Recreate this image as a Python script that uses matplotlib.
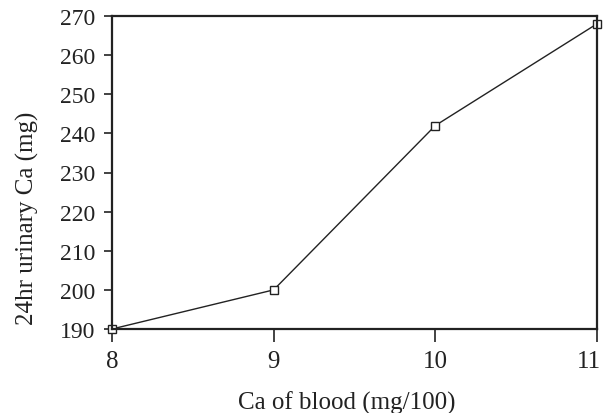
import matplotlib
matplotlib.use("Agg")
from matplotlib import pyplot as plt
from matplotlib.transforms import ScaledTranslation

# データ
ca_blood = [8, 9, 10, 11]
urinary_ca = [190, 200, 242, 268]
x_ticks = [8, 9, 10, 11]
y_ticks = [190, 200, 210, 220, 230, 240, 250, 260, 270]

plt.rcParams['font.family'] = ['Liberation Serif', 'DejaVu Serif']

fig = plt.figure(figsize=(6.06, 4.14), dpi=100)
ax = fig.add_axes([112 / 606, 1 - 330 / 414, 485 / 606, 313 / 414])

ax.plot(ca_blood, urinary_ca, color='#222222', linewidth=1.0,
        marker='s', markersize=6, markerfacecolor='white',
        markeredgecolor='#222222', markeredgewidth=1.0, clip_on=False)

ax.set_xlim(8, 11)
ax.set_ylim(190, 270)
ax.set_xticks(x_ticks)
ax.set_yticks(y_ticks)
ax.tick_params(direction='out', width=1.2, colors='#222222')
ax.tick_params(axis='y', length=6, pad=6, labelsize=17)
ax.tick_params(axis='x', length=9, pad=6, labelsize=18)

# 右端の「11」を少し左へ
lbl = ax.get_xticklabels()[-1]
lbl.set_transform(lbl.get_transform() + ScaledTranslation(-6 / 72, 0, fig.dpi_scale_trans))

for s in ax.spines.values():
    s.set_linewidth(1.6)
    s.set_color('#222222')

ax.set_xlabel('Ca of blood (mg/100)', fontsize=18, color='#222222', va='top')
ax.xaxis.set_label_coords(0.485, -0.198)
ax.set_ylabel('24hr urinary Ca (mg)', fontsize=18, color='#222222')
ax.yaxis.set_label_coords(-0.15, 0.358)

fig.savefig('out.png', dpi=100)
plt.close()
